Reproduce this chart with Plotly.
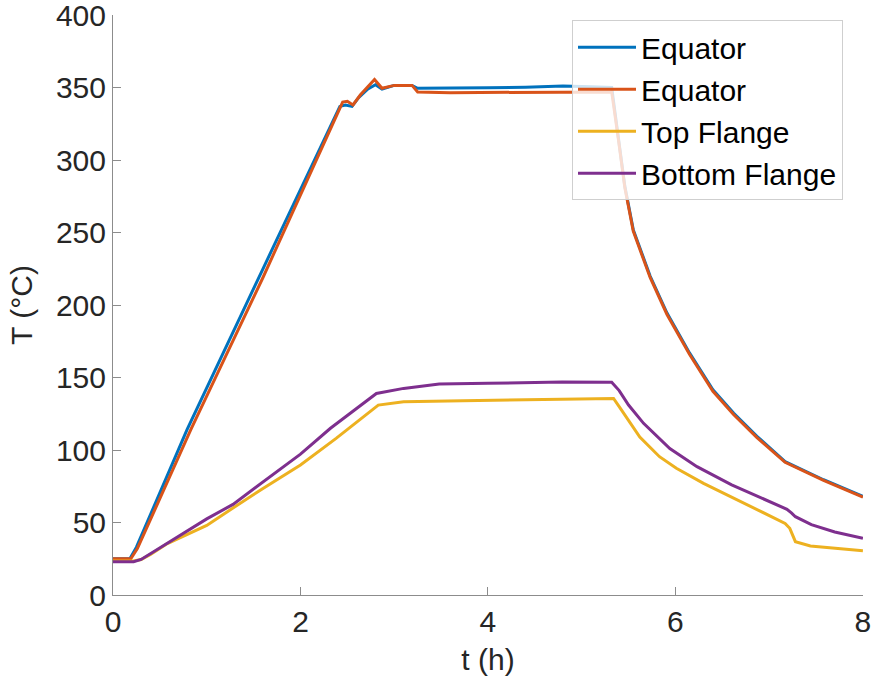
import plotly.graph_objects as go

# ---- data ----
t_eq1 = [0, 0.18, 0.25, 0.79, 1.6, 2.42, 2.48, 2.55, 2.62, 2.72, 2.80, 2.87, 3.0, 3.19, 3.25, 3.6, 4.0, 4.4, 4.8, 5.1, 5.32,
         5.39, 5.46, 5.55, 5.66, 5.73, 5.91, 6.15, 6.40, 6.62, 6.87, 7.17, 7.58, 8.0]
T_eq1 = [25, 25, 33, 114, 225, 337, 338, 337, 343, 349, 352, 349, 351.5, 351.5, 349.5, 349.5, 349.8, 350.2, 351, 350.5, 350,
         316, 282, 252, 233, 220, 194.5, 167, 141.5, 125.5, 109.5, 92, 79.5, 68]

t_eq2 = [0, 0.19, 0.26, 0.83, 1.6, 2.45, 2.50, 2.56, 2.64, 2.74, 2.79, 2.87, 3.0, 3.19, 3.25, 3.6, 4.0, 4.5, 5.0, 5.32,
         5.39, 5.46, 5.55, 5.66, 5.73, 5.91, 6.15, 6.40, 6.62, 6.87, 7.17, 7.58, 8.0]
T_eq2 = [25, 25, 32, 114, 219, 340, 340.5, 338, 345, 352, 355.5, 349.5, 351.5, 351.5, 347, 346.5, 346.5, 347, 347, 347,
         315, 281, 251, 232, 219, 193.5, 166, 140.5, 124.5, 108.5, 91.5, 79, 67.5]

t_top = [0, 0.22, 0.30, 0.40, 0.58, 1.0, 1.28, 1.6, 2.0, 2.38, 2.83, 3.1, 3.73, 4.5, 5.34, 5.42, 5.62, 5.83, 6.01, 6.3,
         6.6, 6.9, 7.17, 7.22, 7.28, 7.44, 7.7, 8.0]
T_top = [23.5, 23.5, 24.5, 28, 35.5, 48, 60, 73.5, 89.7, 108, 131, 133.3, 134, 134.8, 135.6, 128, 109, 95.4, 87.4, 77,
         67.5, 58.5, 49.4, 46, 36.8, 33.8, 32.3, 30.6]

t_bot = [0, 0.22, 0.30, 0.40, 0.57, 0.8, 1.0, 1.28, 1.6, 2.0, 2.32, 2.81, 3.1, 3.48, 4.0, 4.79, 5.32, 5.40, 5.50, 5.66,
         5.94, 6.23, 6.6, 6.9, 7.19, 7.24, 7.28, 7.45, 7.7, 8.0]
T_bot = [23, 23, 24.5, 28.5, 35.7, 45, 52.5, 62.5, 78, 97.2, 115, 139, 142.5, 145.5, 146, 147, 146.7, 141, 131, 118.4,
         101, 88.5, 76, 67.5, 59.1, 56.5, 54, 48.5, 43.5, 39.1]

names = ["Equator", "Equator", "Top Flange", "Bottom Flange"]
colors = ["#0072BD", "#D95319", "#EDB120", "#7E2F8E"]

x_ticks = [0, 2, 4, 6, 8]
y_ticks = [0, 50, 100, 150, 200, 250, 300, 350, 400]

fig = go.Figure()
for tt, TT, nm, c in zip([t_eq1, t_eq2, t_top, t_bot], [T_eq1, T_eq2, T_top, T_bot], names, colors):
    fig.add_trace(go.Scatter(x=tt, y=TT, mode="lines", name=nm,
                             line=dict(color=c, width=3)))

font_family = "Liberation Sans, Arial, Helvetica, sans-serif"
axis_common = dict(
    showgrid=False, zeroline=False, showline=True, linecolor="#8c8c8c", linewidth=1,
    ticks="inside", ticklen=8, tickcolor="#8c8c8c", tickwidth=1, mirror=False,
    tickfont=dict(family=font_family, size=30, color="#262626"),
    ticklabeloverflow="allow", automargin=False,
)

fig.update_layout(
    width=875, height=686,
    margin=dict(l=113, r=12, t=15, b=91),
    paper_bgcolor="white", plot_bgcolor="white",
    font=dict(family=font_family, color="#262626"),
    xaxis=dict(range=[0, 8.001], tickvals=x_ticks, ticktext=[str(v) for v in x_ticks],
               title=dict(text="t (h)", font=dict(size=30, color="#262626"), standoff=11),
               **axis_common),
    yaxis=dict(range=[0, 400.05], tickvals=y_ticks, ticktext=[str(v) for v in y_ticks],
               title=dict(text="T (°C)", font=dict(size=30, color="#262626"), standoff=14),
               **axis_common),
    legend=dict(x=0.612, y=0.991, xanchor="left", yanchor="top",
                bgcolor="rgba(255,255,255,0.8)", bordercolor="#cfcfcf", borderwidth=1,
                font=dict(family=font_family, size=30, color="#000000"),
                tracegroupgap=0, itemwidth=58),
    showlegend=True,
)

fig.write_html("out.html")
